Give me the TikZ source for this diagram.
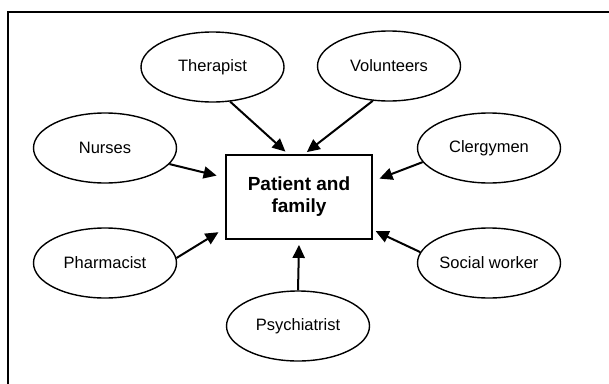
\documentclass[tikz,border=0pt]{standalone}
\usepackage{fontspec}
\setmainfont{Liberation Sans}
\usetikzlibrary{shapes.geometric,arrows.meta}

\begin{document}
\begin{tikzpicture}[x=1pt,y=1pt,
	team/.style={draw,ellipse,line width=1.4pt,minimum width=143pt,minimum height=70pt,inner sep=0pt,font=\fontsize{16.5}{18}\selectfont},
	care/.style={draw,line width=1.8pt,minimum width=146pt,minimum height=84pt,align=center,font=\fontsize{19}{22}\selectfont\bfseries},
	to/.style={line width=2pt,-{Triangle[length=13pt,width=12pt]}}]
	\useasboundingbox (0,0) rectangle (609,-383);
	% outer frame
	\draw[line width=2pt] (612,-12) -- (8.3,-12) -- (8.3,-386);
	% centre
	\node[care] (pat) at (299,-197) {Patient and\\family};
	% helpers round it
	\node[team] (ther) at (212.5,-67) {Therapist};
	\node[team] (vol) at (389,-66) {Volunteers};
	\node[team] (nur) at (105,-148) {Nurses};
	\node[team] (cler) at (489,-148) {Clergymen};
	\node[team] (phar) at (105,-263) {Pharmacist};
	\node[team] (soc) at (489,-263) {Social worker};
	\node[team] (psy) at (298,-326) {Psychiatrist};
	% arrows in
	\draw[to] (ther.-63) -- ([xshift=-13.6pt,yshift=2.5pt]pat.north);
	\draw[to] (vol.-115) -- ([xshift=7.8pt,yshift=2pt]pat.north);
	\draw[to] (nur.-14) -- ([xshift=-8.5pt,yshift=21.4pt]pat.west);
	\draw[to] (cler.-168) -- ([xshift=6.6pt,yshift=18.4pt]pat.east);
	\draw[to] (phar.4) -- ([xshift=-6.6pt,yshift=-35.2pt]pat.west);
	\draw[to] (soc.171) -- ([xshift=2.8pt,yshift=-34.2pt]pat.east);
	\draw[to] (psy.north) -- ([yshift=-5pt]pat.south);
\end{tikzpicture}
\end{document}
